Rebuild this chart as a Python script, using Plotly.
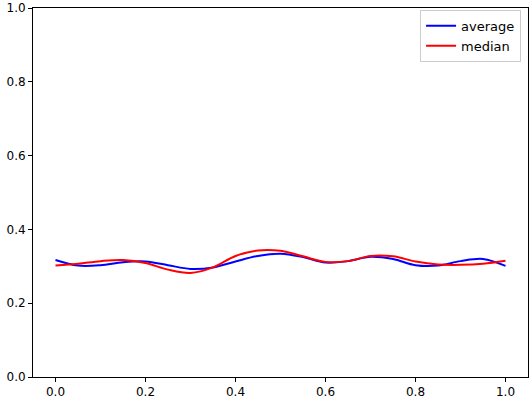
import plotly.graph_objects as go

x_vals = [round(i * 0.05, 2) for i in range(21)]
average = [0.317, 0.302, 0.303, 0.311, 0.313, 0.303, 0.293, 0.297, 0.313, 0.328, 0.334,
           0.325, 0.310, 0.314, 0.326, 0.320, 0.303, 0.302, 0.314, 0.320, 0.301]
median = [0.302, 0.307, 0.314, 0.317, 0.309, 0.291, 0.282, 0.297, 0.328, 0.343, 0.342,
          0.327, 0.312, 0.314, 0.328, 0.327, 0.313, 0.305, 0.304, 0.307, 0.315]
tick_vals = [0.0, 0.2, 0.4, 0.6, 0.8, 1.0]
tick_text = ["0.0", "0.2", "0.4", "0.6", "0.8", "1.0"]

fig = go.Figure()
fig.add_trace(go.Scatter(x=x_vals, y=average, mode="lines", name="average",
                         line=dict(color="blue", width=2, shape="spline", smoothing=1.0)))
fig.add_trace(go.Scatter(x=x_vals, y=median, mode="lines", name="median",
                         line=dict(color="red", width=2, shape="spline", smoothing=1.0)))

axis_common = dict(showline=True, linecolor="black", linewidth=1, mirror=True,
                   ticks="outside", ticklen=4, tickcolor="black", showgrid=False,
                   zeroline=False, tickfont=dict(family="DejaVu Sans", size=12, color="black"),
                   tickvals=tick_vals, ticktext=tick_text)
fig.update_xaxes(range=[-0.05, 1.05], **axis_common)
fig.update_yaxes(range=[0, 1], **axis_common)

fig.update_layout(
    width=532, height=402,
    margin=dict(l=33, r=4, t=8, b=25, autoexpand=False),
    plot_bgcolor="white", paper_bgcolor="white",
    font=dict(family="DejaVu Sans", size=12, color="black"),
    legend=dict(x=0.986, y=0.995, xanchor="right", yanchor="top",
                bordercolor="#cccccc", borderwidth=1, bgcolor="rgba(255,255,255,0.8)",
                font=dict(size=13), itemwidth=30, tracegroupgap=0),
    showlegend=True,
)
fig.write_html("out.html", post_script="document.body.style.margin='0';",
               config={"displayModeBar": False})
